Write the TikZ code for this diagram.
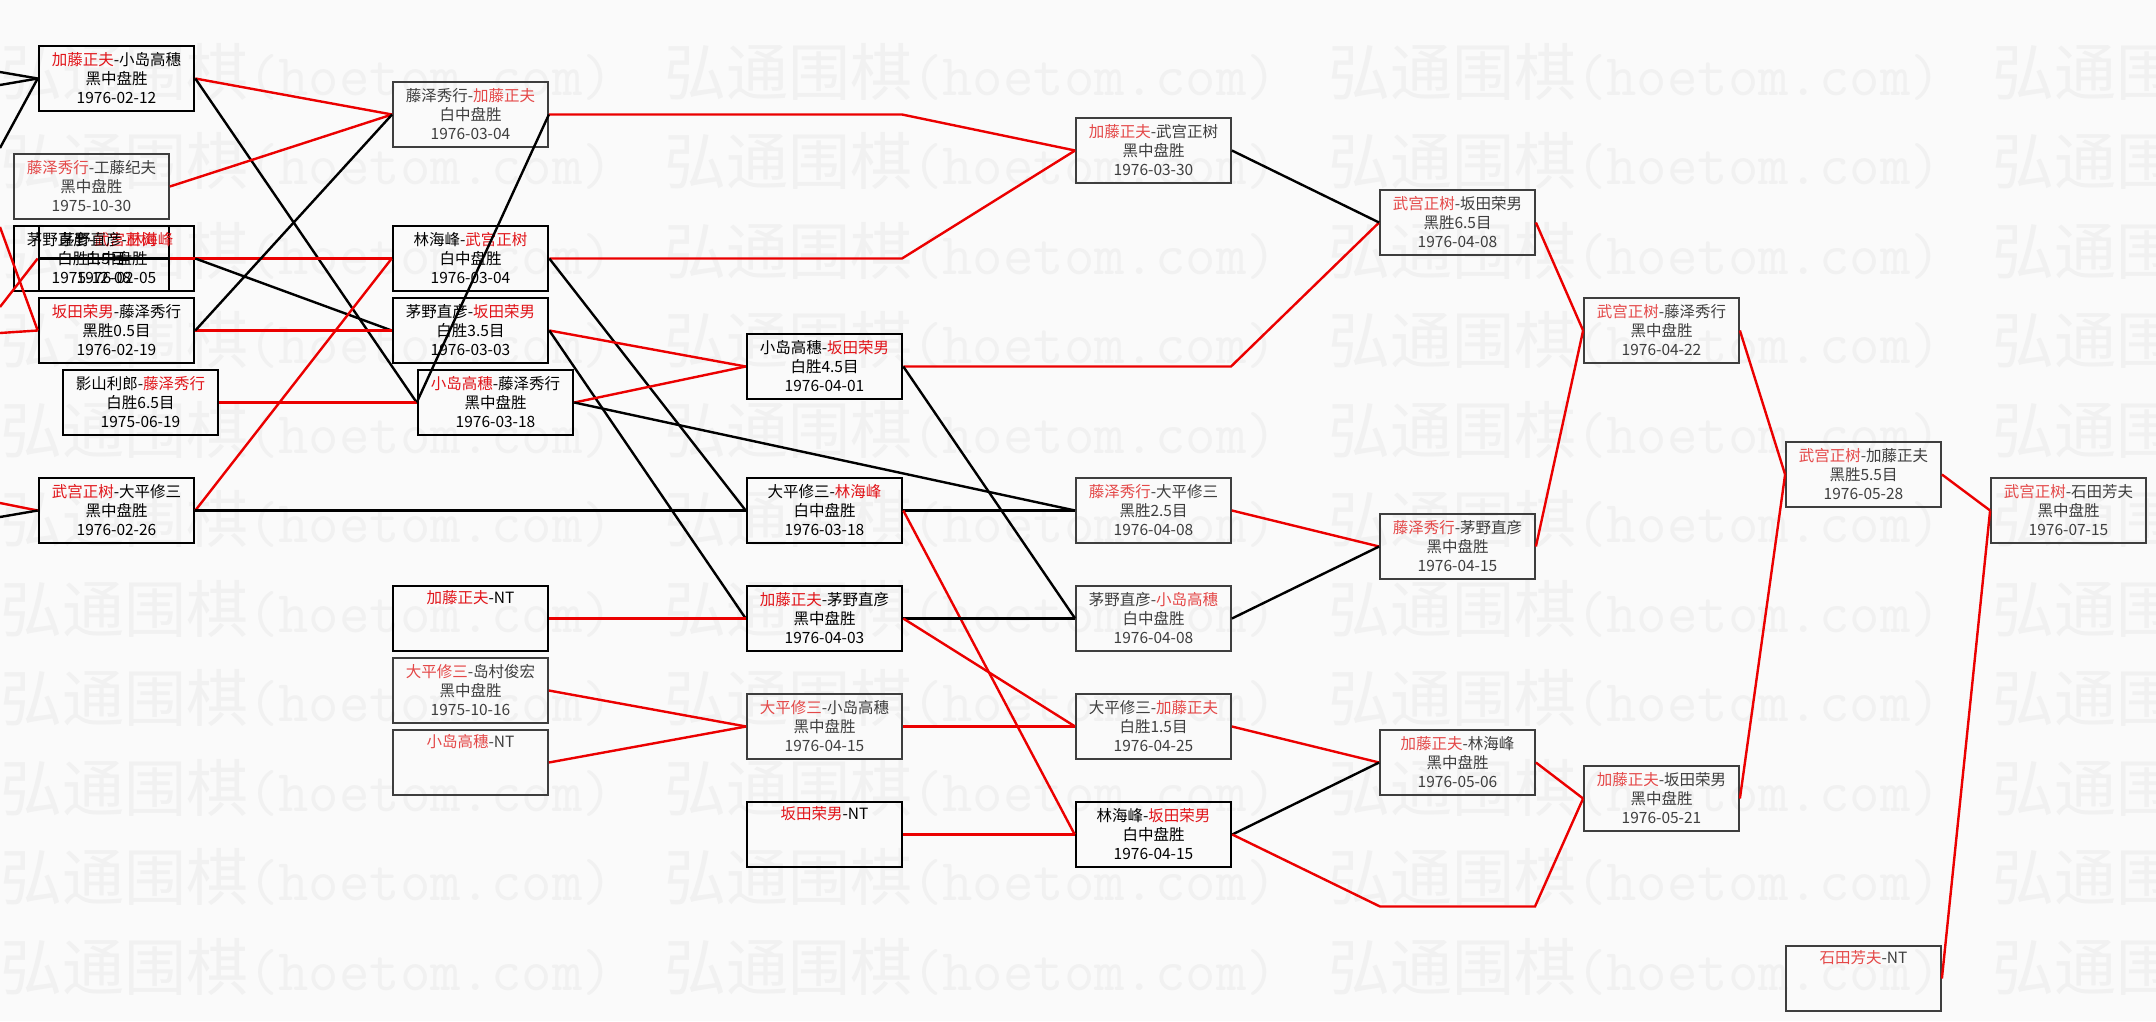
\documentclass[tikz,border=0pt]{standalone}
\usepackage{fontspec}
\usepackage{xcolor}
\newfontfamily\cjk{Noto Sans CJK SC}

\definecolor{lnred}{RGB}{235,0,0}
\definecolor{txred}{RGB}{225,20,25}
\definecolor{ltred}{RGB}{228,72,72}
\definecolor{lttxt}{RGB}{62,62,62}
\definecolor{wmgray}{RGB}{241,241,241}
\definecolor{pagebg}{RGB}{250,250,250}

\newcommand{\rd}[1]{\textcolor{txred}{#1}}
\newcommand{\rl}[1]{\textcolor{ltred}{#1}}

\begin{document}
\begin{tikzpicture}[x=1pt,y=-1pt,
  game/.style={draw=black,line width=2.6pt,minimum width=155pt,minimum height=65pt,
    inner sep=0pt,align=center,font=\cjk\fontsize{15.5}{19}\selectfont},
  gamelt/.style={game,draw=lttxt,line width=1.8pt,text=lttxt},
  win/.style={lnred,line width=2.4pt},
  lose/.style={black,line width=2.4pt}]
  \path[use as bounding box,fill=pagebg] (0,0) rectangle (2156,1021);

  % watermark
  \foreach \wy in {72,161,251,340,430,519,609,698,788,877,967}
    \foreach \wx in {0,664,1328,1992}
      \node[name=wm-\wx-\wy,anchor=west,inner sep=0pt,text=wmgray] at (\wx,\wy)
        {{\cjk\fontsize{62}{62}\selectfont 弘通围棋}{\ttfamily\fontsize{59}{59}\selectfont(hoetom.com)}};

  % round 1
  \node[game] (km) at (116.5,78.5) {\rd{加藤正夫}-小岛高穗\\黑中盘胜\\1976-02-12};
  \node[gamelt] (fk) at (91.5,186.5) {\rl{藤泽秀行}-工藤纪夫\\黑中盘胜\\1975-10-30};
  \node[game] (cw) at (91.5,258.5) {茅野直彦-\rd{武宫正树}\\白胜1.5目\\1975-12-08};
  \node[game] (cl) at (116.5,258.5) {茅野直彦-\rd{林海峰}\\白中盘胜\\1976-02-05};
  \node[game] (sf) at (116.5,330.5) {\rd{坂田荣男}-藤泽秀行\\黑胜0.5目\\1976-02-19};
  \node[game] (kf) at (140.5,402.5) {影山利郎-\rd{藤泽秀行}\\白胜6.5目\\1975-06-19};
  \node[game] (wo) at (116.5,510.5) {\rd{武宫正树}-大平修三\\黑中盘胜\\1976-02-26};

  % round 2
  \node[gamelt] (fka) at (470.5,114.5) {藤泽秀行-\rl{加藤正夫}\\白中盘胜\\1976-03-04};
  \node[game] (lw) at (470.5,258.5) {林海峰-\rd{武宫正树}\\白中盘胜\\1976-03-04};
  \node[game] (cs) at (470.5,330.5) {茅野直彦-\rd{坂田荣男}\\白胜3.5目\\1976-03-03};
  \node[game] (kof) at (495.5,402.5) {\rd{小岛高穗}-藤泽秀行\\黑中盘胜\\1976-03-18};
  \node[game] (knt) at (470.5,618.5) {\rd{加藤正夫}-NT\\\strut\\\strut};
  \node[gamelt] (os) at (470.5,690.5) {\rl{大平修三}-岛村俊宏\\黑中盘胜\\1975-10-16};
  \node[gamelt] (kont) at (470.5,762.5) {\rl{小岛高穗}-NT\\\strut\\\strut};

  % round 3
  \node[game] (kos) at (824.5,366.5) {小岛高穗-\rd{坂田荣男}\\白胜4.5目\\1976-04-01};
  \node[game] (ol) at (824.5,510.5) {大平修三-\rd{林海峰}\\白中盘胜\\1976-03-18};
  \node[game] (kc) at (824.5,618.5) {\rd{加藤正夫}-茅野直彦\\黑中盘胜\\1976-04-03};
  \node[gamelt] (oko) at (824.5,726.5) {\rl{大平修三}-小岛高穗\\黑中盘胜\\1976-04-15};
  \node[game] (snt) at (824.5,834.5) {\rd{坂田荣男}-NT\\\strut\\\strut};

  % round 4
  \node[gamelt] (kw) at (1153.5,150.5) {\rl{加藤正夫}-武宫正树\\黑中盘胜\\1976-03-30};
  \node[gamelt] (fo) at (1153.5,510.5) {\rl{藤泽秀行}-大平修三\\黑胜2.5目\\1976-04-08};
  \node[gamelt] (cko) at (1153.5,618.5) {茅野直彦-\rl{小岛高穗}\\白中盘胜\\1976-04-08};
  \node[gamelt] (oka) at (1153.5,726.5) {大平修三-\rl{加藤正夫}\\白胜1.5目\\1976-04-25};
  \node[game] (ls) at (1153.5,834.5) {林海峰-\rd{坂田荣男}\\白中盘胜\\1976-04-15};

  % round 5
  \node[gamelt] (ws) at (1457.5,222.5) {\rl{武宫正树}-坂田荣男\\黑胜6.5目\\1976-04-08};
  \node[gamelt] (fc) at (1457.5,546.5) {\rl{藤泽秀行}-茅野直彦\\黑中盘胜\\1976-04-15};
  \node[gamelt] (kl) at (1457.5,762.5) {\rl{加藤正夫}-林海峰\\黑中盘胜\\1976-05-06};

  % final rounds
  \node[gamelt] (wf) at (1661.5,330.5) {\rl{武宫正树}-藤泽秀行\\黑中盘胜\\1976-04-22};
  \node[gamelt] (ks) at (1661.5,798.5) {\rl{加藤正夫}-坂田荣男\\黑中盘胜\\1976-05-21};
  \node[gamelt] (wk) at (1863.5,474.5) {\rl{武宫正树}-加藤正夫\\黑胜5.5目\\1976-05-28};
  \node[gamelt] (int) at (1863.5,978.5) {\rl{石田芳夫}-NT\\\strut\\\strut};
  \node[gamelt] (wi) at (2068.5,510.5) {\rl{武宫正树}-石田芳夫\\黑中盘胜\\1976-07-15};

  % ends off the left edge and bends
  \coordinate (e1) at (0,72);
  \coordinate (e2) at (0,85);
  \coordinate (e3) at (0,148);
  \coordinate (e4) at (0,227);
  \coordinate (e5) at (0,307);
  \coordinate (e6) at (0,333);
  \coordinate (e7) at (0,503);
  \coordinate (e8) at (0,517);
  \coordinate (b1) at (902,114.5);
  \coordinate (b2) at (902,258.5);
  \coordinate (b3) at (1231,366.5);
  \coordinate (b4) at (1380,906.5);
  \coordinate (b5) at (1535,906.5);

  \draw[lose] (e1) -- (km.west);
  \draw[lose] (e2) -- (km.west);
  \draw[lose] (e3) -- (km.west);
  \draw[win] (e4) -- (sf.west);
  \draw[win] (e6) -- (sf.west);
  \draw[win] (e5) -- (cl.west);
  \draw[win] (e7) -- (wo.west);
  \draw[lose] (e8) -- (wo.west);

  \draw[lose] (cw.east) -- (cl.west);
  \draw[win] (km.east) -- (fka.west);
  \draw[lose] (km.east) -- (kof.west);
  \draw[win] (fk.east) -- (fka.west);
  \draw[win] (cl.east) -- (lw.west);
  \draw[win] (cw.east) -- (lw.west);
  \draw[lose] (cl.east) -- (cs.west);
  \draw[win] (sf.east) -- (cs.west);
  \draw[lose] (sf.east) -- (fka.west);
  \draw[win] (kf.east) -- (kof.west);
  \draw[win] (wo.east) -- (lw.west);
  \draw[lose] (wo.east) -- (ol.west);

  \draw[win] (fka.east) -- (b1) -- (kw.west);
  \draw[lose] (fka.east) -- (kof.west);
  \draw[win] (lw.east) -- (b2) -- (kw.west);
  \draw[lose] (lw.east) -- (ol.west);
  \draw[win] (cs.east) -- (kos.west);
  \draw[lose] (cs.east) -- (kc.west);
  \draw[win] (kof.east) -- (kos.west);
  \draw[lose] (kof.east) -- (fo.west);
  \draw[win] (knt.east) -- (kc.west);
  \draw[win] (os.east) -- (oko.west);
  \draw[win] (kont.east) -- (oko.west);

  \draw[win] (kos.east) -- (b3) -- (ws.west);
  \draw[lose] (kos.east) -- (cko.west);
  \draw[lose] (ol.east) -- (fo.west);
  \draw[win] (ol.east) -- (ls.west);
  \draw[lose] (kc.east) -- (cko.west);
  \draw[win] (kc.east) -- (oka.west);
  \draw[win] (oko.east) -- (oka.west);
  \draw[win] (snt.east) -- (ls.west);

  \draw[lose] (kw.east) -- (ws.west);
  \draw[win] (fo.east) -- (fc.west);
  \draw[lose] (cko.east) -- (fc.west);
  \draw[win] (oka.east) -- (kl.west);
  \draw[lose] (ls.east) -- (kl.west);
  \draw[win] (ls.east) -- (b4) -- (b5) -- (ks.west);

  \draw[win] (ws.east) -- (wf.west);
  \draw[win] (fc.east) -- (wf.west);
  \draw[win] (kl.east) -- (ks.west);
  \draw[win] (wf.east) -- (wk.west);
  \draw[win] (ks.east) -- (wk.west);
  \draw[win] (wk.east) -- (wi.west);
  \draw[win] (int.east) -- (wi.west);
\end{tikzpicture}
\end{document}
